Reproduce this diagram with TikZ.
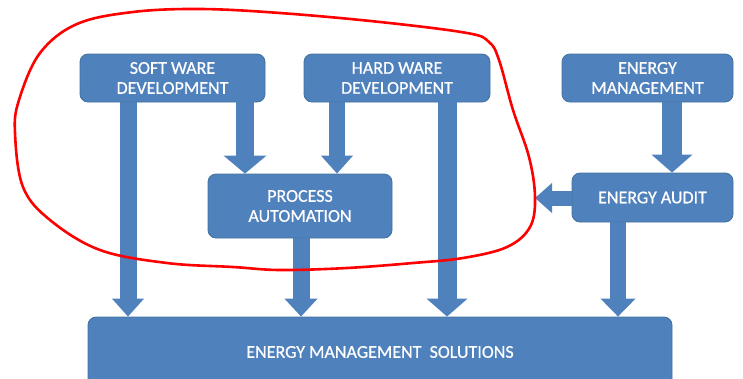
\documentclass[tikz,border=0pt]{standalone}
\usepackage{fontspec}
\setmainfont{Carlito}
\newfontfamily\boxfont[FakeBold=0.6]{Carlito}
\usetikzlibrary{arrows.meta}
\definecolor{boxblue}{HTML}{4F81BD}
\definecolor{boxedge}{HTML}{41719C}
\tikzset{
  box/.style={draw=boxedge, line width=0.8pt, fill=boxblue, rounded corners=8pt,
    text=white, align=center, inner sep=0pt,
    font=\boxfont\fontsize{18}{20}\selectfont},
  barrow/.style={draw=boxblue, line width=#1, line cap=butt},
  loop/.style={draw=red, line width=2.6pt}
}
\begin{document}
\begin{tikzpicture}[x=1pt,y=-1pt]
\useasboundingbox (0,0) rectangle (743,378);
% boxes
\node[box, minimum width=185pt, minimum height=48pt] (sw) at (172.5,78) {SOFT WARE\\DEVELOPMENT};
\node[box, minimum width=186pt, minimum height=48pt] (hw) at (397,78) {HARD WARE\\DEVELOPMENT};
\node[box, minimum width=171pt, minimum height=48pt] (em) at (647.5,78) {ENERGY\\MANAGEMENT};
\node[box, minimum width=184pt, minimum height=64pt] (pa) at (300,206) {PROCESS\\AUTOMATION};
\node[box, minimum width=161pt, minimum height=49pt] (ea) at (652.5,197.5) {ENERGY AUDIT};
\node[box, minimum width=584pt, minimum height=70pt] (sol) at (380,352) {ENERGY MANAGEMENT\ \ SOLUTIONS};
% x positions of the connectors
\coordinate (x1) at (128,0);
\coordinate (x2) at (245,0);
\coordinate (x3) at (337,0);
\coordinate (x4) at (447,0);
\coordinate (x5) at (301,0);
\coordinate (x6) at (672,0);
\coordinate (x8) at (618,0);
\coordinate (y7) at (0,198);
\coordinate (tip7) at (535,198);
% block arrows
\draw[barrow=17pt, -{Triangle[width=31pt,length=18pt]}] (sw.south -| x1) -- (sol.north -| x1);
\draw[barrow=18pt, -{Triangle[width=42pt,length=18pt]}] ([yshift=3pt]sw.south -| x2) -- (pa.north -| x2);
\draw[barrow=16pt, -{Triangle[width=31pt,length=18pt]}] (hw.south -| x3) -- (pa.north -| x3);
\draw[barrow=19pt, -{Triangle[width=40pt,length=18pt]}] ([yshift=4pt]hw.south -| x4) -- (sol.north -| x4);
\draw[barrow=17pt, -{Triangle[width=32pt,length=18pt]}] (pa.south -| x5) -- (sol.north -| x5);
\draw[barrow=20pt, -{Triangle[width=40pt,length=18pt]}] (em.south -| x6) -- (ea.north -| x6);
\draw[barrow=15pt, -{Triangle[width=29pt,length=17pt]}] (ea.west |- y7) -- (tip7);
\draw[barrow=16pt, -{Triangle[width=34pt,length=18pt]}] (ea.south -| x8) -- (sol.north -| x8);
% red freehand loop
\draw[loop] plot[smooth cycle, tension=0.6] coordinates {
  (280,13) (380,22) (467,33) (489,42) (499,60) (513,110) (529,157) (535,197)
  (530,227) (507,247) (463,258) (413,263) (347,268) (280,270) (233,267)
  (167,263) (100,250) (50,220) (23,187) (15,133) (19,100) (40,53) (77,24)
  (133,12) (200,9)};
\end{tikzpicture}
\end{document}
